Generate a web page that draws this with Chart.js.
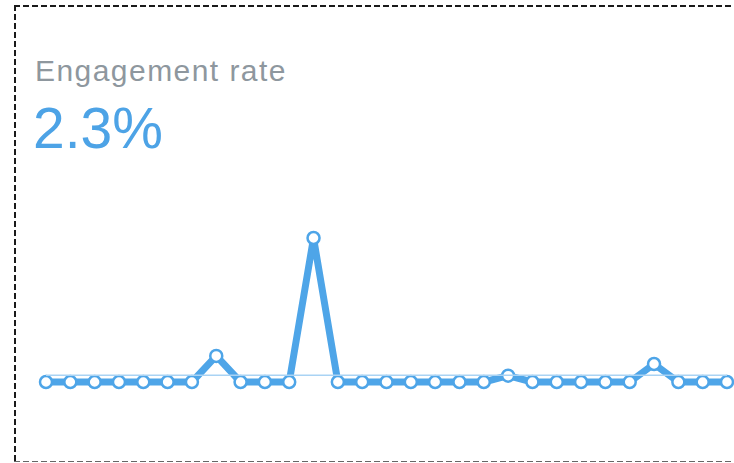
<!DOCTYPE html>
<html>
<head>
<meta charset="utf-8">
<script src="https://cdn.jsdelivr.net/npm/chart.js@4"></script>
<style>
  html, body { margin: 0; padding: 0; background: #fff; overflow: hidden; }
  body { width: 734px; height: 463px; position: relative; font-family: "Liberation Sans", Arial, sans-serif; }
  .edge { position: absolute; }
  .edge.top { left: 14px; top: 5px; width: 740px; height: 2px;
    background: repeating-linear-gradient(to right, #1a1a1a 0 6px, transparent 6px 9px); }
  .edge.left { left: 14px; top: 5px; width: 2px; height: 457px;
    background: repeating-linear-gradient(to bottom, #1a1a1a 0 6px, transparent 6px 9px); }
  .edge.bottom { left: 14px; top: 461px; width: 740px; height: 1px;
    background: repeating-linear-gradient(to right, #666 0 6px, transparent 6px 9px); }
  .title { position: absolute; left: 35px; top: 54px; font-size: 30px; letter-spacing: 1.45px; color: #8e979e; white-space: nowrap; }
  .value { position: absolute; left: 33px; top: 95px; font-size: 57px; color: #4da3e6; white-space: nowrap; }
  .chart { position: absolute; left: 0; top: 0; width: 760px; height: 463px; }
</style>
</head>
<body>
<div class="edge top"></div>
<div class="edge left"></div>
<div class="edge bottom"></div>
<div class="title">Engagement rate</div>
<div class="value">2.3%</div>
<div class="chart"><canvas id="rateChart"></canvas></div>
<script>
const days = [
  "1", "2", "3", "4", "5", "6", "7", "8", "9", "10",
  "11", "12", "13", "14", "15", "16", "17", "18", "19", "20",
  "21", "22", "23", "24", "25", "26", "27", "28", "29",
];
const rates = [
  0, 0, 0, 0, 0, 0, 0, 1.45, 0, 0,
  0, 8.0, 0, 0, 0, 0, 0, 0, 0, 0.35,
  0, 0, 0, 0, 0, 1.0, 0, 0, 0,
];
const averageRates = [
  0.37, 0.37, 0.37, 0.37, 0.37, 0.37, 0.37, 0.37, 0.37, 0.37,
  0.37, 0.37, 0.37, 0.37, 0.37, 0.37, 0.37, 0.37, 0.37, 0.37,
  0.37, 0.37, 0.37, 0.37, 0.37, 0.37, 0.37, 0.37, 0.37,
];

new Chart(document.getElementById("rateChart"), {
  type: "line",
  data: {
    labels: days,
    datasets: [
      {
        label: "Average",
        data: averageRates,
        borderColor: "#a9d3f4",
        borderWidth: 1.5,
        pointRadius: 0,
        tension: 0,
        clip: false,
      },
      {
        label: "Engagement rate",
        data: rates,
        borderColor: "#4ea5e8",
        borderWidth: 7,
        borderJoinStyle: "round",
        pointRadius: 6,
        pointBorderWidth: 2.5,
        pointBackgroundColor: "#fff",
        pointBorderColor: "#4ea5e8",
        tension: 0,
        clip: false,
      },
    ],
  },
  options: {
    responsive: true,
    maintainAspectRatio: false,
    animation: false,
    layout: { padding: { left: 46, right: 33, top: 238, bottom: 81 } },
    plugins: { legend: { display: false }, tooltip: { enabled: false } },
    scales: {
      x: { display: false },
      y: { display: false, min: 0, max: 8.0 },
    },
  },
});
</script>
</body>
</html>
